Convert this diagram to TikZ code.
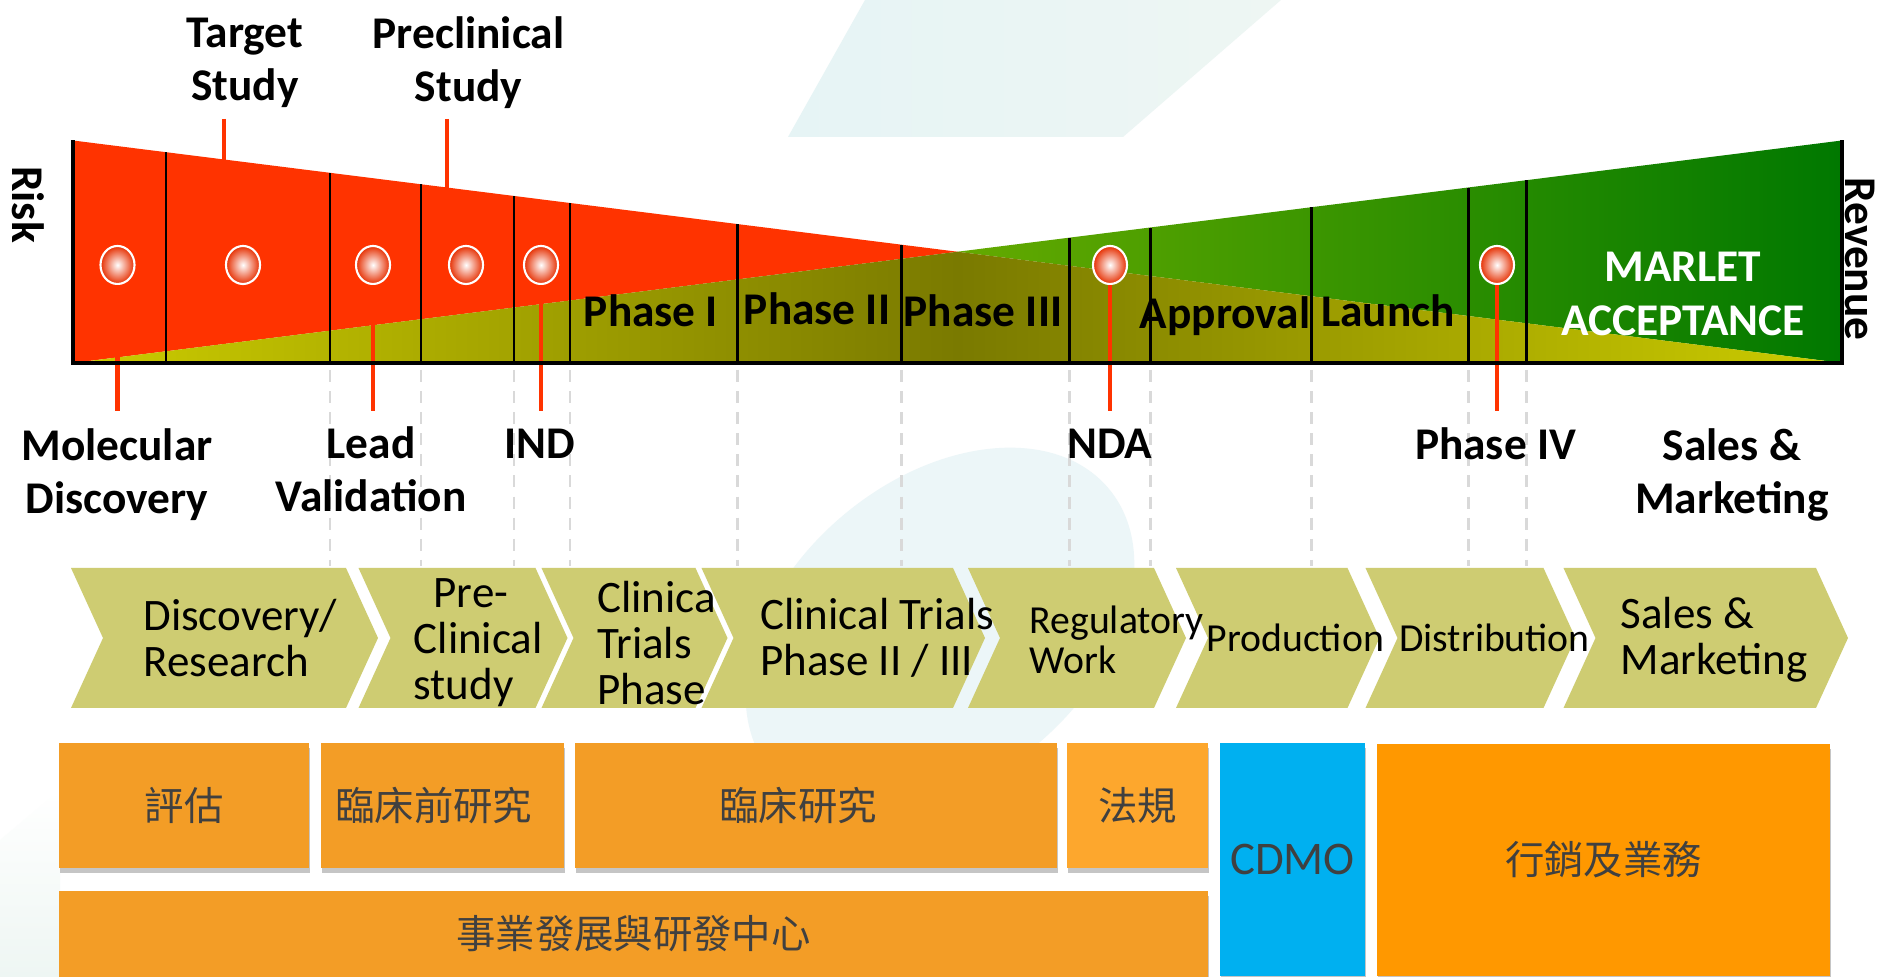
\documentclass[tikz,border=0pt]{standalone}
\usepackage{fontspec}
\setmainfont{Carlito}
\newfontfamily\cjk{Noto Sans CJK TC}
\usetikzlibrary{shapes.geometric,shadows}

\definecolor{riskred}{RGB}{255,51,0}
\definecolor{revlight}{RGB}{100,170,0}
\definecolor{revdark}{RGB}{0,120,0}
\definecolor{ylw}{RGB}{204,204,0}
\definecolor{olv}{RGB}{122,122,0}
\definecolor{chevfill}{RGB}{206,204,114}
\definecolor{boxorange}{RGB}{243,157,38}
\definecolor{laworange}{RGB}{253,167,45}
\definecolor{mktorange}{RGB}{255,152,0}
\definecolor{cdmoblue}{RGB}{0,176,240}
\definecolor{cjkgray}{RGB}{64,64,64}
\definecolor{bgcyan}{RGB}{230,244,245}
\definecolor{bgmint}{RGB}{238,246,243}
\definecolor{bgpale}{RGB}{236,246,248}

\begin{document}
\begin{tikzpicture}[x=0.01cm, y=-0.01cm, inner sep=0pt]
\tikzstyle{lab}=[font=\fontsize{12.9}{15.1}\selectfont\bfseries, align=center]
\tikzstyle{chtxt}=[font=\fontsize{12.8}{13.1}\selectfont, align=left, anchor=west]
\tikzstyle{chsmall}=[font=\fontsize{11.3}{11.4}\selectfont, align=left, anchor=west]
\tikzstyle{dot}=[ellipse, minimum width=0.34cm, minimum height=0.38cm, draw=white, line width=0.6pt, inner color=white, outer color=riskred!90!black]
\tikzstyle{stem}=[riskred, line width=1.3pt]
\tikzstyle{sep}=[black, line width=0.85pt]
\tikzstyle{guide}=[black!15, line width=0.85pt, dash pattern=on 3.4pt off 2.6pt]
\tikzstyle{chev}=[fill=chevfill]
\tikzstyle{box}=[minimum height=1.25cm, font=\cjk\fontsize{11.2}{13}\selectfont, text=cjkgray, drop shadow={shadow xshift=0.3pt, shadow yshift=-1.5pt, opacity=0.45}]

\fill[white] (0,0) rectangle (1878,977);
\useasboundingbox (0,0) rectangle (1878,977);

% pale backdrop
\shade[left color=bgcyan, right color=bgmint] (865,0) -- (1281,0) -- (1123,137) -- (788,137) -- cycle;
\fill[bgpale, rotate around={40:(940,630)}] (940,630) ellipse (2.2cm and 1.5cm);
\shade[top color=white, bottom color=bgmint] (0,840) -- (60,790) -- (60,977) -- (0,977) -- cycle;

% risk / revenue wedges
\coordinate (tl) at (73,140.5);
\coordinate (bl) at (73,363);
\coordinate (tr) at (1842,140.5);
\coordinate (br) at (1842,363);
\coordinate (cx) at (957.5,251.75);
\fill[riskred] (tl) -- (cx) -- (bl) -- cycle;
\shade[left color=revlight, right color=revdark] (cx) -- (tr) -- (br) -- cycle;
\shade[left color=ylw, right color=ylw, middle color=olv] (bl) -- (cx) -- (br) -- cycle;

\foreach \x in {166,330,421,514,570,737,901,1069,1150,1311,1468,1526}
  \draw[sep] (\x,363) -- (\x,{min(140.5+0.12578*(\x-73),363-0.12578*(\x-73))});
\foreach \x in {330,421,514,570,737,901,1069,1150,1311,1468,1526}
  \draw[guide] (\x,370) -- (\x,566);

% milestones
\node[dot] (o1) at (117.5,265) {};
\node[dot] (o2) at (243,265) {};
\node[dot] (o3) at (373,265) {};
\node[dot] (o4) at (466,265) {};
\node[dot] (o5) at (541,265) {};
\node[dot] (o6) at (1110,265) {};
\node[dot] (o7) at (1497,265) {};
\coordinate (t1) at (224,119);
\coordinate (t1e) at (224,185);
\coordinate (t2) at (447,119);
\coordinate (t2e) at (447,210);
\coordinate (m1) at (117.5,411.5);
\coordinate (m3) at (373,411.5);
\coordinate (m5) at (541,411.5);
\coordinate (m6) at (1110,411.5);
\coordinate (m7) at (1497,411.5);
\foreach \a/\b in {t1/t1e,t2/t2e,o1/m1,o3/m3,o5/m5,o6/m6,o7/m7}{\draw[stem] (\a) -- (\b);}

\draw[black, line width=1.1pt] (tl) -- (bl) -- (br) -- (tr);

\node[lab] (tgt) at (245,63) {Target\\Study};
\node[lab] (pre) at (468.5,63) {Preclinical\\Study};
\node[lab] (mol) at (117,475) {Molecular\\Discovery};
\node[lab] (lead) at (371,469.5) {Lead\\Validation};
\node[lab] (ind) at (540,444) {IND};
\node[lab] (nda) at (1110,444) {NDA};
\node[lab] (ph4) at (1495.5,444) {Phase IV};
\node[lab] (sales) at (1732,475) {Sales \&\\Marketing};
\node[lab] (p1) at (651,311) {Phase I};
\node[lab] (p2) at (817,309) {Phase II};
\node[lab] (p3) at (983,311) {Phase III};
\node[lab] (appr) at (1225,316) {Approval};
\node[lab] (launch) at (1388,311) {Launch};
\node[lab, text=white] (mkt) at (1683,294) {MARLET\\ACCEPTANCE};
\node[lab, rotate=-90] (risk) at (28,204.5) {Risk};
\node[lab, rotate=-90] (rev) at (1860,259) {Revenue};

% value chain
\foreach \l/\r in {71/346,358.5/535.5,541.5/695.5,701.5/953,968/1154,1176/1347.5,1365.5/1543.5,1563.5/1816}
  \fill[chev] (\l,568) -- (\r,568) -- (\r+32,638) -- (\r,708) -- (\l,708) -- (\l+32,638) -- cycle;
\node[chtxt] (c1) at (142.7,638) {Discovery/\\Research};
\node[chtxt] (c2) at (413,643) {\hspace*{0.2cm}Pre-\\Clinical\\study};
\node[chtxt] (c3) at (596.5,643) {Clinica\\Trials\\Phase};
\node[chtxt] (c4) at (759.5,638) {Clinical Trials\\Phase II / III};
\node[chsmall] (c5) at (1029,640) {Regulatory\\Work};
\node[chsmall] (c6) at (1206,638) {Production};
\node[chsmall] (c7) at (1398.5,638) {Distribution};
\node[chtxt] (c8) at (1620,640) {Sales \&\\Marketing};

% units
\node[box, fill=boxorange, minimum width=2.5cm] (b1) at (184,805.5) {評估};
\node[box, fill=boxorange, minimum width=2.425cm] (b2) at (442.25,805.5) {\hspace*{-0.17cm}臨床前研究};
\node[box, fill=boxorange, minimum width=4.815cm] (b3) at (816.25,805.5) {\hspace*{-0.36cm}臨床研究};
\node[box, fill=laworange, minimum width=1.41cm] (b4) at (1137.5,805.5) {法規};
\node[box, fill=boxorange, minimum width=11.49cm, minimum height=0.86cm] (b5) at (633.5,934) {事業發展與研發中心};
\node[box, fill=cdmoblue, minimum width=1.45cm, minimum height=2.33cm, font=\fontsize{13.3}{16}\selectfont] (b6) at (1292.5,859.5) {CDMO};
\node[box, fill=mktorange, minimum width=4.53cm, minimum height=2.32cm] (b7) at (1603.5,860) {行銷及業務};
\end{tikzpicture}
\end{document}
